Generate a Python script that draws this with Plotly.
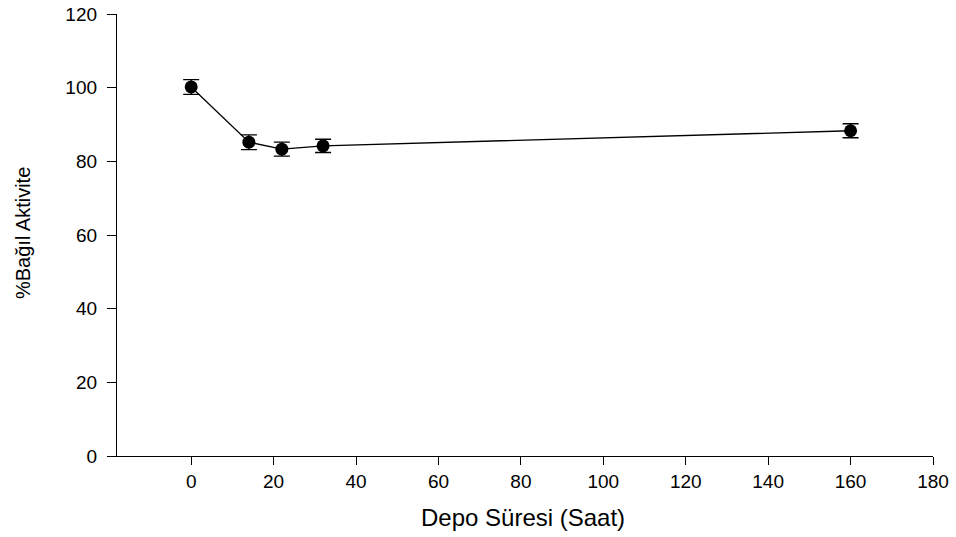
import plotly.graph_objects as go

hours = [0, 14, 22, 32, 160]
activity = [100.2, 85.2, 83.3, 84.2, 88.3]
errors = [2.0, 2.0, 1.9, 1.8, 1.9]

x_ticks = [0, 20, 40, 60, 80, 100, 120, 140, 160, 180]
y_ticks = [0, 20, 40, 60, 80, 100, 120]

FONT = "Liberation Sans, Arial, sans-serif"

# plot area in page pixels
PL, PR, PT, PB = 117, 933, 14, 456
W, H = 956, 537

fig = go.Figure()
fig.add_trace(go.Scatter(
    x=hours, y=activity,
    mode="lines+markers",
    line=dict(color="black", width=1.3),
    marker=dict(color="black", size=13, symbol="circle"),
    error_y=dict(type="data", array=errors, visible=True,
                 color="black", thickness=1.3, width=8),
    showlegend=False,
))

fig.update_layout(
    width=W, height=H,
    margin=dict(l=PL, r=W - PR, t=PT, b=H - PB),
    paper_bgcolor="white", plot_bgcolor="white",
    font=dict(family=FONT, color="black", size=19),
)
fig.update_xaxes(
    range=[-18, 180], tickvals=x_ticks, ticktext=[str(v) for v in x_ticks],
    showline=True, linecolor="black", linewidth=1.3,
    ticks="outside", ticklen=8, tickwidth=1.3, tickcolor="black",
    showgrid=False, zeroline=False, automargin=False,
    ticklabeloverflow="allow",
    tickfont=dict(size=19, family=FONT),
)
fig.update_yaxes(
    range=[0, 120], tickvals=y_ticks, ticktext=[str(v) for v in y_ticks],
    showline=True, linecolor="black", linewidth=1.3,
    ticks="outside", ticklen=9, tickwidth=1.3, tickcolor="black",
    showgrid=False, zeroline=False, automargin=False,
    ticklabeloverflow="allow", ticklabelstandoff=6,
    tickfont=dict(size=19, family=FONT),
)

pw, ph = PR - PL, PB - PT
fig.add_annotation(
    text="Depo Süresi (Saat)", xref="paper", yref="paper",
    x=(523 - PL) / pw, y=-(517 - PB) / ph,
    showarrow=False, font=dict(size=24, family=FONT),
    xanchor="center", yanchor="middle",
)
fig.add_annotation(
    text="%Bağıl Aktivite", xref="paper", yref="paper",
    x=-(PL - 23) / pw, y=(PB - 233) / ph,
    showarrow=False, font=dict(size=20, family=FONT), textangle=-90,
    xanchor="center", yanchor="middle",
)

fig.write_html("out.html", config={"displayModeBar": False},
               post_script="document.body.style.margin='0';")
